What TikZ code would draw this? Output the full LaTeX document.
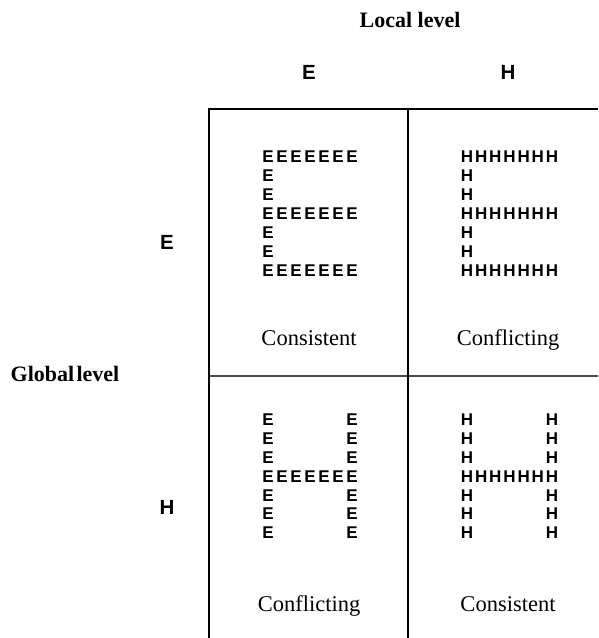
\documentclass[tikz,border=0pt]{standalone}
\usepackage{fontspec}
\setmainfont{Liberation Serif}
\setsansfont{Liberation Sans}
\begin{document}
\begin{tikzpicture}[x=1pt,y=-1pt,
  letter/.style={inner sep=0pt, anchor=center, font=\sffamily\bfseries\fontsize{17}{17}\selectfont},
  head/.style={inner sep=0pt, anchor=center, font=\sffamily\bfseries\fontsize{20.5}{20.5}\selectfont},
  title/.style={inner sep=0pt, anchor=base, font=\bfseries\fontsize{22}{22}\selectfont},
  caption/.style={inner sep=0pt, anchor=base, font=\fontsize{22.5}{22.5}\selectfont},
  outer/.style={line width=2pt, black},
  innerv/.style={line width=1.3pt, black},
  innerh/.style={line width=1.2pt, black!70}]
\useasboundingbox (0,0) rectangle (598,638);
% grid
\coordinate (tl) at (209,109);
\coordinate (tr) at (598,109);
\coordinate (bl) at (209,638);
\coordinate (mt) at (408,109);
\coordinate (mb) at (408,638);
\coordinate (ml) at (209,376);
\coordinate (mr) at (598,376);
\draw[innerh] (ml) -- (mr);
\draw[innerv] (mt) -- (mb);
\draw[outer] (bl) -- (tl) -- (tr);
% titles
\node[title] (local) at (410,27) {Local level};
\node[title] (global) at (65,381) {Global\kern0.1em level};
\node[head] (colE) at (309,72) {E};
\node[head] (colH) at (508,72) {H};
\node[head] (rowE) at (167,242) {E};
\node[head] (rowH) at (167,507) {H};
% top-left: E made of E
\foreach \j in {0,...,6}{
  \ifnum\j=0 \def\cols{0,...,6}\else\ifnum\j=3 \def\cols{0,...,6}\else\ifnum\j=6 \def\cols{0,...,6}\else\def\cols{0}\fi\fi\fi
  \foreach \k in \cols {\node[letter] (ee-\j-\k) at (268+14*\k,157+19*\j) {E};}
}
% top-right: E made of H
\foreach \j in {0,...,6}{
  \ifnum\j=0 \def\cols{0,...,6}\else\ifnum\j=3 \def\cols{0,...,6}\else\ifnum\j=6 \def\cols{0,...,6}\else\def\cols{0}\fi\fi\fi
  \foreach \k in \cols {\node[letter] (eh-\j-\k) at (467+14.17*\k,157+19*\j) {H};}
}
% bottom-left: H made of E
\foreach \j in {0,...,6}{
  \ifnum\j=3 \def\cols{0,...,6}\else\def\cols{0,6}\fi
  \foreach \k in \cols {\node[letter] (he-\j-\k) at (268+14*\k,420+18.8*\j) {E};}
}
% bottom-right: H made of H
\foreach \j in {0,...,6}{
  \ifnum\j=3 \def\cols{0,...,6}\else\def\cols{0,6}\fi
  \foreach \k in \cols {\node[letter] (hh-\j-\k) at (467+14.17*\k,420+18.8*\j) {H};}
}
% captions
\node[caption] (c1) at (309,345) {Consistent};
\node[caption] (c2) at (508,345) {Conflicting};
\node[caption] (c3) at (309,611) {Conflicting};
\node[caption] (c4) at (508,611) {Consistent};
\end{tikzpicture}
\end{document}
